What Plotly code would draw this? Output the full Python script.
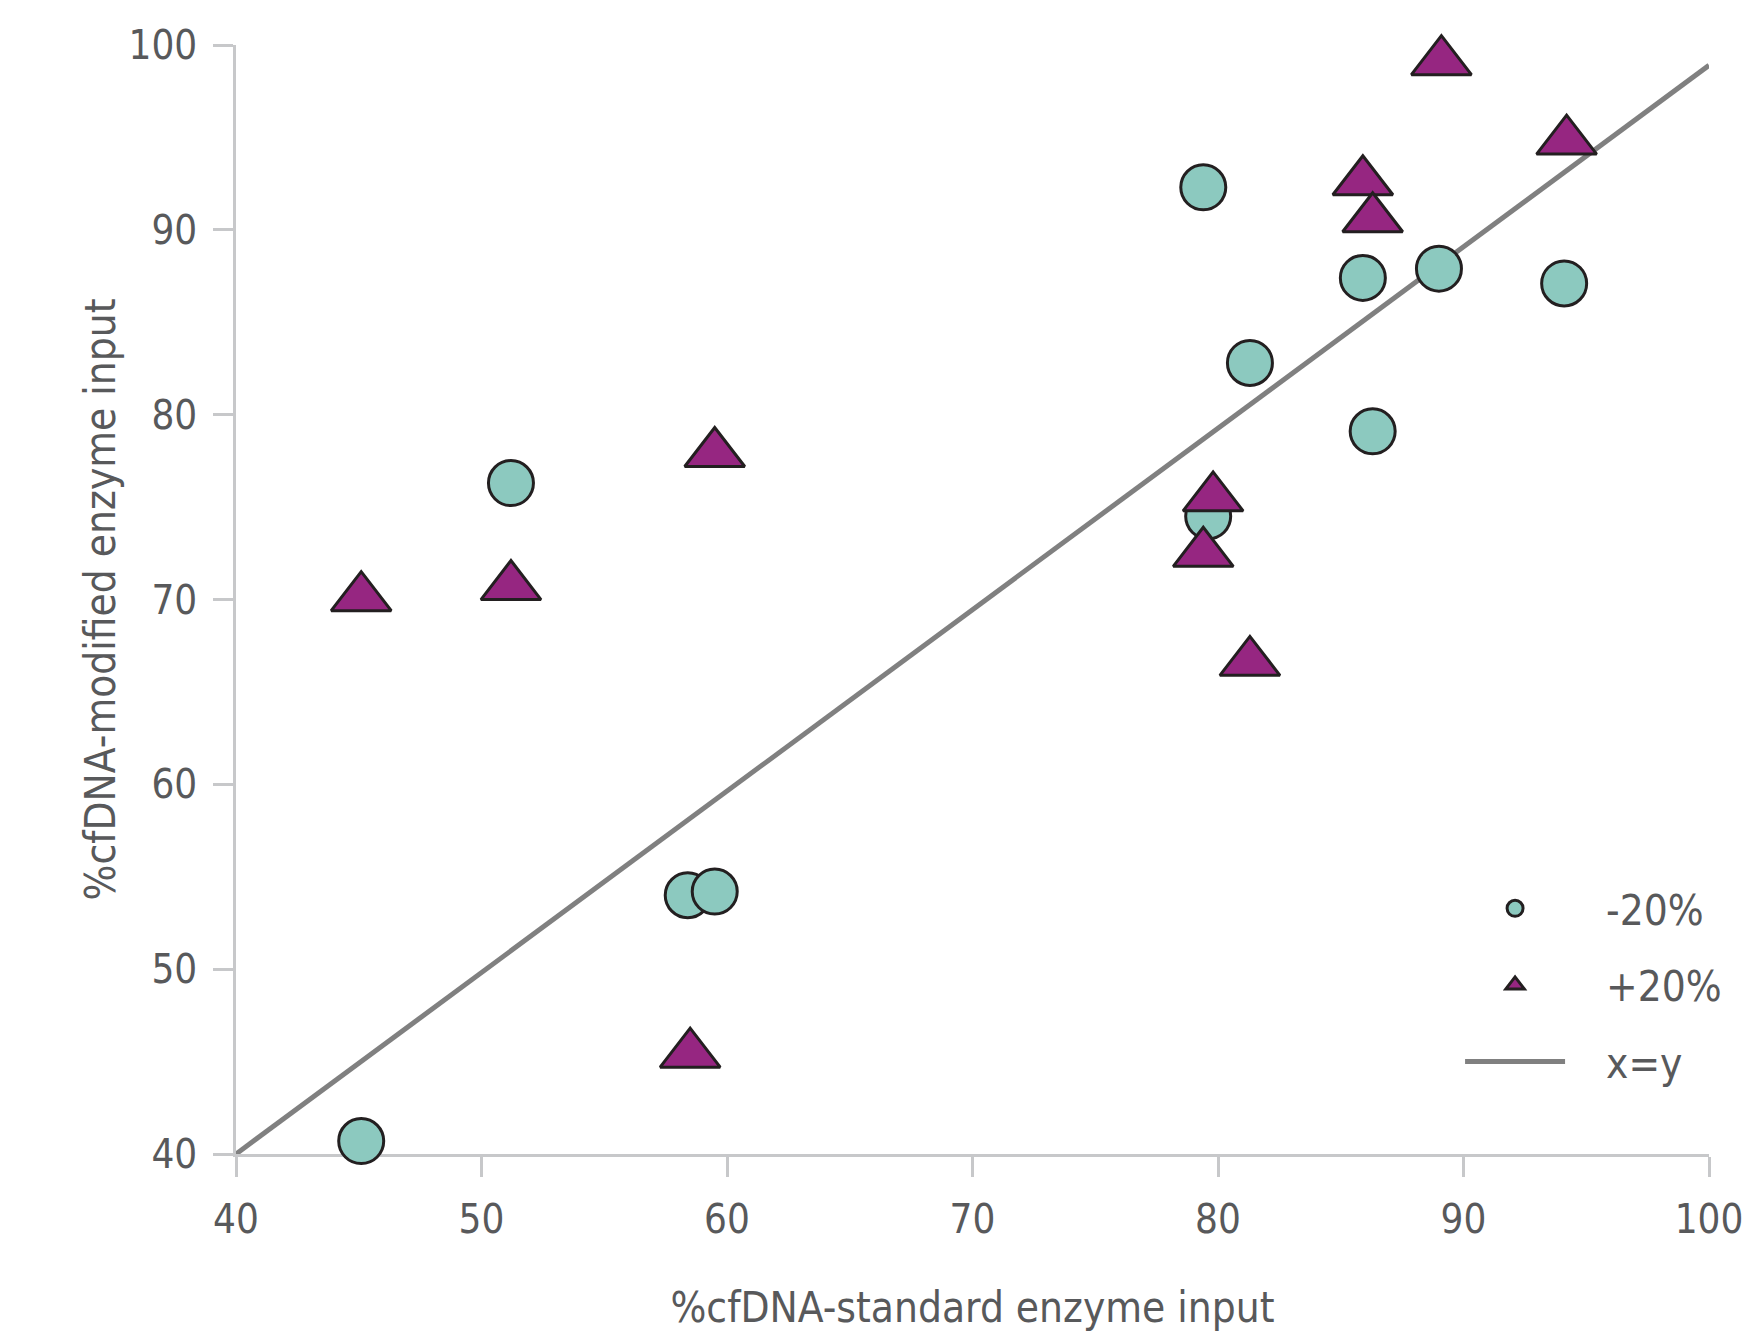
import plotly.graph_objects as go

# ---- data ----
minus20_x = [45.1, 51.2, 58.4, 59.5, 79.4, 79.6, 81.3, 85.9, 86.3, 89.0, 94.1]
minus20_y = [40.7, 76.3, 54.0, 54.2, 92.3, 74.5, 82.8, 87.4, 79.1, 87.9, 87.1]
plus20_x = [45.1, 51.2, 58.5, 59.5, 79.4, 79.8, 81.3, 85.9, 86.3, 89.1, 94.2]
plus20_y = [70.1, 70.7, 45.4, 77.9, 72.5, 75.5, 66.6, 92.6, 90.6, 99.1, 94.8]
line_x = [40, 100]
line_y = [40, 98.9]
tick_vals = [40, 50, 60, 70, 80, 90, 100]

series_names = ["-20%", "+20%", "x=y"]
x_title = "%cfDNA-standard enzyme input"
y_title = "%cfDNA-modified enzyme input"

FONT = "Liberation Sans Narrow, Arial Narrow, DejaVu Sans Condensed, sans-serif"
TXT = "#58595b"
AX = "#c7c8ca"
PAD = "\u00a0\u00a0\u00a0"

fig = go.Figure()
fig.add_trace(go.Scatter(
    x=line_x, y=line_y, mode="lines", name=PAD + series_names[2],
    line=dict(color="#808080", width=5), legendrank=3, legendgroup="c",
    hoverinfo="skip"))
fig.add_trace(go.Scatter(
    x=minus20_x, y=minus20_y, mode="markers", name=PAD + series_names[0],
    marker=dict(symbol="circle", size=45, color="#8cc9bf",
                line=dict(color="#231f20", width=3)),
    legendrank=1, legendgroup="a", cliponaxis=False))
fig.add_trace(go.Scatter(
    x=plus20_x, y=plus20_y, mode="markers", name=PAD + series_names[1],
    marker=dict(symbol="triangle-up", size=52, color="#962681",
                line=dict(color="#231f20", width=3)),
    legendrank=2, legendgroup="b", cliponaxis=False))

axis_common = dict(
    range=[40, 100], tickvals=tick_vals, showgrid=False, zeroline=False,
    showline=True, linecolor=AX, linewidth=2.5, ticks="outside",
    ticklen=20, tickwidth=2.5, tickcolor=AX, layer="below traces",
    tickfont=dict(family=FONT, size=40, color=TXT), automargin=False,
    ticklabeloverflow="allow",
)

fig.update_layout(
    width=1742, height=1333,
    margin=dict(l=236, r=33, t=45, b=179),
    paper_bgcolor="white", plot_bgcolor="white",
    font=dict(family=FONT, color=TXT),
    xaxis=dict(**axis_common, ticklabelstandoff=8,
               title=dict(text=x_title, font=dict(family=FONT, size=42, color=TXT), standoff=52)),
    yaxis=dict(**axis_common, ticklabelstandoff=8,
               title=dict(text=y_title, font=dict(family=FONT, size=42, color=TXT), standoff=0)),
    showlegend=True,
    legend=dict(x=0.831, y=0.252, xanchor="left", yanchor="top",
                font=dict(family=FONT, size=42, color=TXT),
                bgcolor="rgba(0,0,0,0)", itemwidth=100, tracegroupgap=19,
                traceorder="grouped"),
)

fig.write_html("out.html", config={"displayModeBar": False},
               post_script="document.body.style.margin='0';")
